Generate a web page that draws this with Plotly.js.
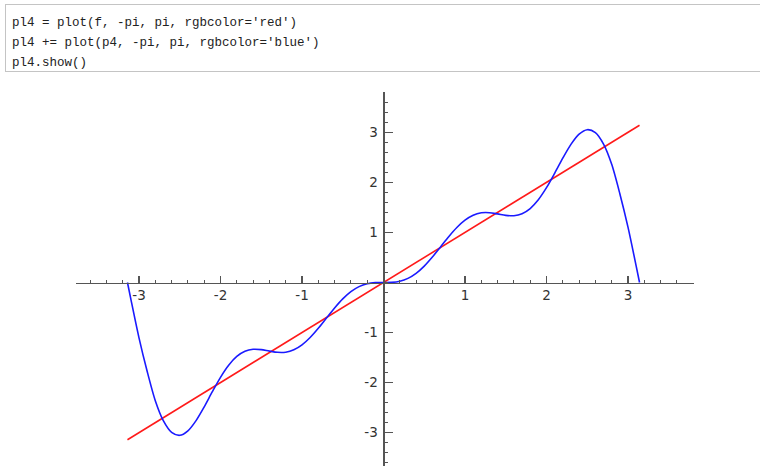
<!DOCTYPE html>
<html>
<head>
<meta charset="utf-8">
<script src="https://cdn.plot.ly/plotly-3.0.1.min.js"></script>
<style>
  html, body { margin: 0; padding: 0; background: #fff; overflow: hidden; width: 760px; height: 466px; }
  #chart { position: absolute; left: 0; top: 0; width: 760px; height: 490px; }
  #code {
    position: absolute; left: 5px; top: 4px; width: 770px; height: 68px;
    border: 1.5px solid #c4c4c4; background: #fff; box-sizing: border-box;
    font-family: "Liberation Mono", "DejaVu Sans Mono", monospace; font-size: 12.5px;
    color: #222; padding: 8px 0 0 6px; line-height: 20px; white-space: pre;
  }
</style>
</head>
<body>
<div id="chart"></div>
<div id="code">pl4 = plot(f, -pi, pi, rgbcolor='red')
pl4 += plot(p4, -pi, pi, rgbcolor='blue')
pl4.show()</div>
<script>
// f(x) = x, drawn from -pi to pi
const fX = [-3.1416, 3.1416];
const fY = [-3.1416, 3.1416];

// p4 (blue curve)
const p4X = [-3.1416, -3.1, -3.0, -2.9, -2.8, -2.7, -2.6, -2.5, -2.4, -2.3, -2.2, -2.1, -2.0, -1.9, -1.8, -1.7, -1.6, -1.5, -1.4, -1.3, -1.2, -1.1, -1.0, -0.9, -0.8, -0.7, -0.6, -0.5, -0.4, -0.3, -0.2, -0.1,
             0, 0.1, 0.2, 0.3, 0.4, 0.5, 0.6, 0.7, 0.8, 0.9, 1.0, 1.1, 1.2, 1.3, 1.4, 1.5, 1.6, 1.7, 1.8, 1.9, 2.0, 2.1, 2.2, 2.3, 2.4, 2.5, 2.6, 2.7, 2.8, 2.9, 3.0, 3.1, 3.1416];
const p4Y = [0, -0.332, -1.105, -1.774, -2.361, -2.765, -2.994, -3.053, -2.963, -2.759, -2.484, -2.182, -1.894, -1.653, -1.478, -1.375, -1.335, -1.342, -1.371, -1.395, -1.392, -1.345, -1.246, -1.099, -0.915, -0.711, -0.509, -0.328, -0.183, -0.083, -0.026, -0.003,
             0, 0.003, 0.026, 0.083, 0.183, 0.328, 0.509, 0.711, 0.915, 1.099, 1.246, 1.345, 1.392, 1.395, 1.371, 1.342, 1.335, 1.375, 1.478, 1.653, 1.894, 2.182, 2.484, 2.759, 2.963, 3.053, 2.994, 2.765, 2.361, 1.774, 1.105, 0.332, 0];

const tickVals = [-3, -2, -1, 1, 2, 3];
const tickText = ['-3', '-2', '-1', '1', '2', '3'];

const xRange = [-3.773, 3.810];
const yRange = [-3.806, 3.806];

const axisColor = '#555';
const tickFont = { family: 'DejaVu Sans', size: 13.5, color: '#333' };

const traces = [
  { x: fX, y: fY, type: 'scatter', mode: 'lines', line: { color: '#ff1a1a', width: 1.6 }, hoverinfo: 'skip' },
  { x: p4X, y: p4Y, type: 'scatter', mode: 'lines', line: { color: '#1a1aff', width: 1.6, shape: 'spline', smoothing: 0.8 }, hoverinfo: 'skip' }
];

const layout = {
  width: 760, height: 490,
  margin: { l: 76, r: 66, t: 92, b: 17 },
  paper_bgcolor: 'rgba(0,0,0,0)', plot_bgcolor: 'rgba(0,0,0,0)',
  showlegend: false,
  xaxis: {
    range: xRange, anchor: 'free', position: (0 - yRange[0]) / (yRange[1] - yRange[0]),
    showgrid: false, zeroline: false, showline: true, linecolor: axisColor, linewidth: 1.6,
    tickmode: 'array', tickvals: tickVals, ticktext: tickText,
    ticks: 'inside', ticklen: 7, tickwidth: 1.3, tickcolor: axisColor, tickfont: tickFont,
    minor: { tickmode: 'linear', tick0: 0, dtick: 0.2, ticks: 'inside', ticklen: 3, tickwidth: 1, tickcolor: axisColor, showgrid: false }
  },
  yaxis: {
    range: yRange, anchor: 'free', position: (0 - xRange[0]) / (xRange[1] - xRange[0]),
    showgrid: false, zeroline: false, showline: true, linecolor: axisColor, linewidth: 1.6,
    tickmode: 'array', tickvals: tickVals, ticktext: tickText,
    ticks: 'inside', ticklen: 8, tickwidth: 1.3, tickcolor: axisColor, tickfont: tickFont,
    ticklabelstandoff: 3,
    minor: { tickmode: 'linear', tick0: 0, dtick: 0.2, ticks: 'inside', ticklen: 3, tickwidth: 1, tickcolor: axisColor, showgrid: false }
  }
};

Plotly.newPlot('chart', traces, layout, { staticPlot: true, displayModeBar: false });
</script>
</body>
</html>
